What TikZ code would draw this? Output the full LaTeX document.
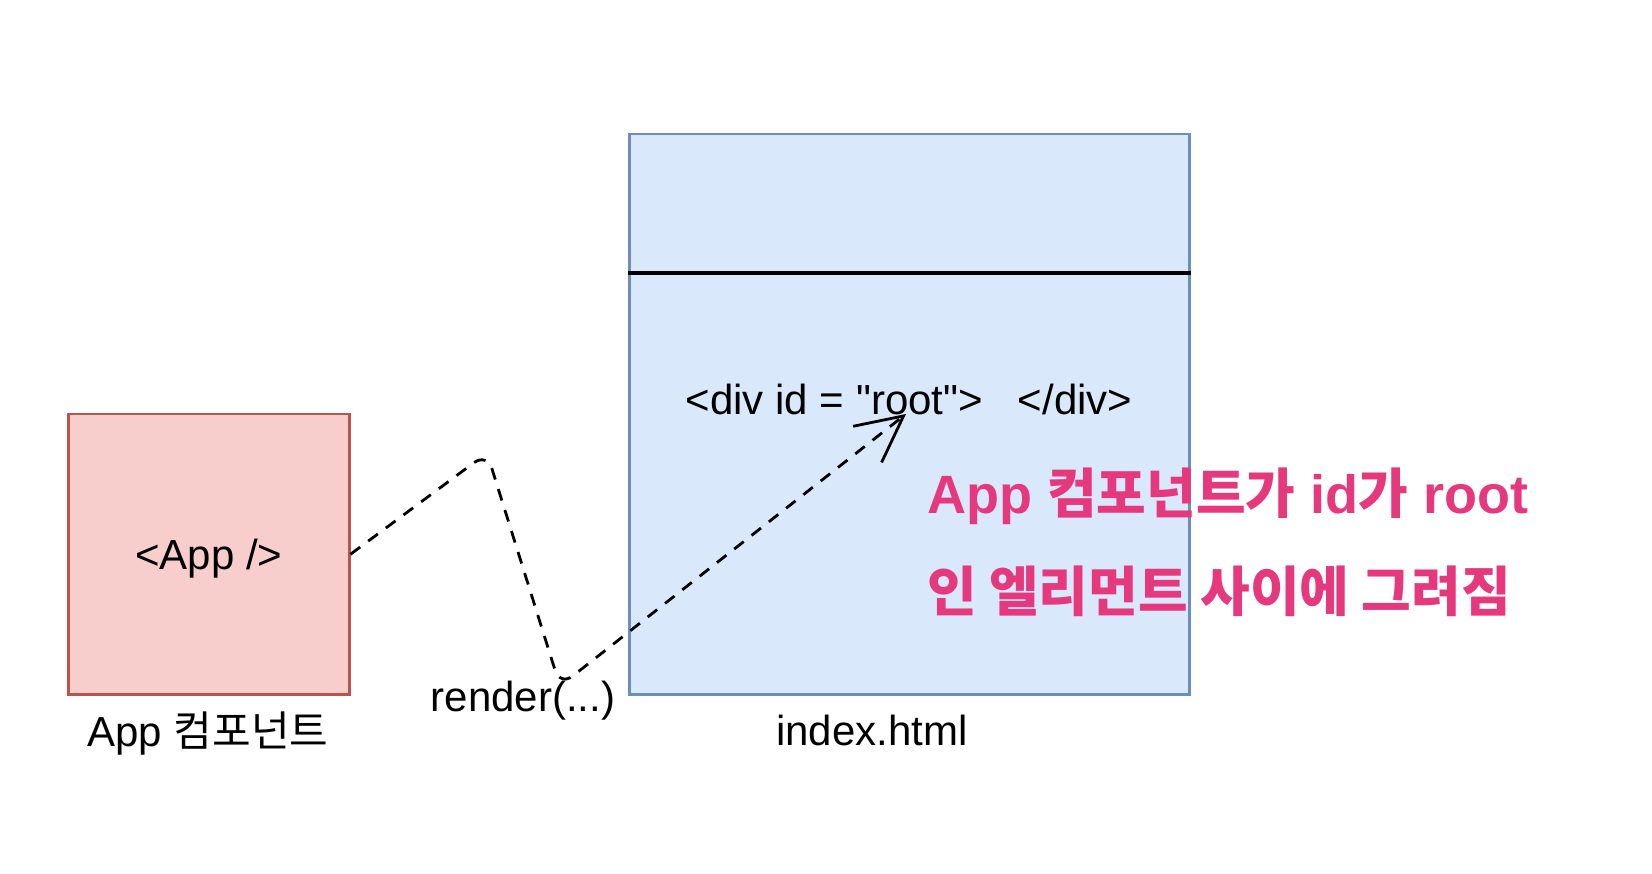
\documentclass[tikz,border=0pt]{standalone}
\usepackage{fontspec}
\setmainfont{Liberation Sans}
\newfontfamily\cjk{Noto Sans CJK KR}
\usetikzlibrary{arrows.meta}
\definecolor{appfill}{HTML}{F8CECC}
\definecolor{appline}{HTML}{B85450}
\definecolor{htmlfill}{HTML}{DAE8FC}
\definecolor{htmlline}{HTML}{6C8EBF}
\definecolor{notepink}{HTML}{E6387D}
\tikzset{
  appbox/.style={draw=appline, fill=appfill, line width=2.5pt, inner sep=0pt},
  htmlbox/.style={draw=htmlline, fill=htmlfill, line width=2.5pt, inner sep=0pt},
  divider/.style={draw=black, line width=3.2pt},
  lbl/.style={inner sep=0pt, font=\fontsize{42}{50}\selectfont},
  note/.style={inner sep=0pt, text=notepink, font=\fontsize{54}{64}\selectfont\bfseries},
  flow/.style={draw=black, line width=2.8pt, dash pattern=on 12pt off 10pt,
    rounded corners=16pt, -{Straight Barb[length=46pt,width=46pt]}}
}
\begin{document}
\begin{tikzpicture}[x=1pt,y=-1pt]
\useasboundingbox (0,0) rectangle (1652,874);
\node[appbox, minimum width=281pt, minimum height=280pt, anchor=north west] (app) at (67,413) {};
\node[lbl, anchor=base] (apptext) at ([yshift=-15pt]app.center) {<App />};
\node[htmlbox, minimum width=560pt, minimum height=560pt, anchor=north west] (html) at (628,133) {};
\draw[divider] ([yshift=-140pt]html.north west) -- ([yshift=-140pt]html.north east);
\node[lbl, anchor=base] (root) at (909,415) {<div id = \textquotedbl root\textquotedbl>\ \ \ </div>};
\coordinate (tip) at (906,414);
\node[lbl, anchor=base] (applbl) at (208,746) {App {\cjk 컴포넌트}};
\node[lbl, anchor=base] (render) at (523,711) {render(...)};
\node[lbl, anchor=base] (htmllbl) at (872,745) {index.html};
\node[note, anchor=base west] (note1) at (927,513) {App {\cjk 컴포넌트가} id{\cjk 가} root};
\node[note, anchor=base west] (note2) at (927,611) {\cjk 인 엘리먼트 사이에 그려짐};
\draw[flow] (app.east) -- (487,453) -- (560,686) -- (tip);
\end{tikzpicture}
\end{document}
